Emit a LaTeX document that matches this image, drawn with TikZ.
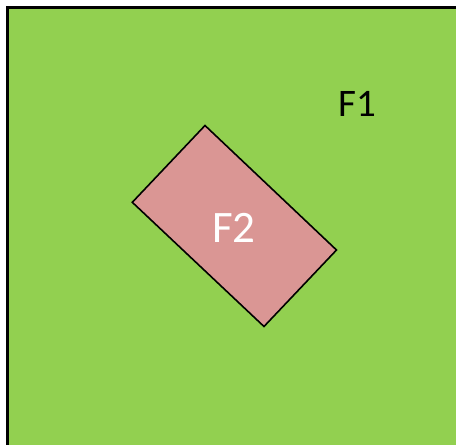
\documentclass[tikz,border=0pt]{standalone}
\usepackage{fontspec}
\setmainfont{Carlito}
\definecolor{fgreen}{HTML}{92D050}
\definecolor{fpink}{HTML}{DA9694}
\begin{document}
\begin{tikzpicture}[x=1pt,y=-1pt,
  lbl/.style={anchor=base,inner sep=0pt}]
\useasboundingbox (0,0) rectangle (456,445);
\clip (0,0) rectangle (456,445);
\fill[white] (0,0) rectangle (456,445);
\draw[fill=fgreen,line width=2.6pt] (7.3,7.3) rectangle (470,460);
\coordinate (t) at (205,125.5);
\coordinate (l) at (132.3,202.3);
\coordinate (b) at (264,326.5);
\coordinate (r) at (336.5,250);
\draw[fill=fpink,line width=1.6pt,line join=miter] (t) -- (r) -- (b) -- (l) -- cycle;
\node[lbl,font=\fontsize{39}{39}\selectfont] (f1) at (357.8,116) {F1};
\node[lbl,font=\fontsize{45}{45}\selectfont,text=white] (f2) at (234,242.7) {F2};
\end{tikzpicture}
\end{document}
